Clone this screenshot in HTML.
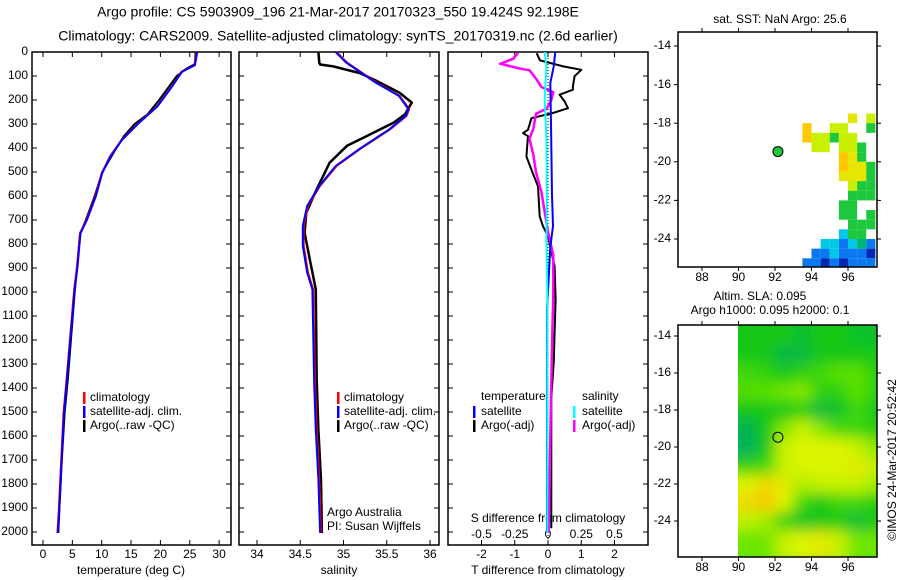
<!DOCTYPE html>
<html><head><meta charset="utf-8"><style>
html,body{margin:0;padding:0;background:#fff;}
svg{display:block;font-family:"Liberation Sans",sans-serif;}
text{font-size:12px;fill:#000;}
text.ttl{font-size:14px;}
</style></head><body>
<svg id="chart" width="900" height="580" viewBox="0 0 900 580"></svg>
<script>
// ---------- data ----------
const tempDepth   = [0,55,82,144,227,297,366,436,505,603,700,755,894,992,1367,1504,1700,1908,2004];
const tempClim    = [26.2,25.8,23.6,21.9,19.4,16.2,13.4,11.4,10,8.9,7.4,6.3,5.8,5.3,4.0,3.5,3.1,2.7,2.45];
const tempArgoDepth = [0,50,70,100,150,200,260,300,350,400,450,500,600,700,760,900,1000,1370,1500,1700,1900,2004];
const tempArgo      = [26.0,25.9,24.4,22.8,21.3,19.8,17.8,15.6,13.8,12.5,11.3,10.1,8.8,7.3,6.3,5.8,5.4,4.2,3.7,3.2,2.8,2.6];
const salClimDepth = [0,44,127,183,238,266,322,405,475,558,641,724,808,919,989,1367,1575,1783,2004];
const salClim      = [34.92,35.04,35.38,35.65,35.76,35.73,35.54,35.19,34.92,34.73,34.59,34.54,34.54,34.59,34.65,34.67,34.69,34.72,34.74];
const salArgoDepth = [0,44,52,60,88,120,170,211,260,294,350,391,461,572,669,753,864,989,1367,1575,1783,2004];
const salArgo      = [34.71,34.72,34.73,34.88,35.19,35.38,35.65,35.79,35.71,35.58,35.27,35.04,34.84,34.69,34.57,34.55,34.61,34.68,34.69,34.71,34.74,34.75];
const tdArgoDepth = [5,35,60,74,101,143,157,178,206,234,254,276,324,338,351,435,490,560,685,726,768,893,1032,1296,1442,1984];
const tdArgo      = [-0.34,-0.24,0.46,1.0,0.8,0.75,0.75,0.35,0.5,0.6,0.15,-0.5,-0.6,-0.75,-0.6,-0.65,-0.5,-0.3,-0.25,-0.15,0,0.2,0.23,0.17,0.1,0.1];
const tdSatDepth = [0,60,130,296,597,726,812,1076,2004];
const tdSat      = [0.22,0.17,0.07,0.09,0.12,0.15,0.07,-0.03,-0.03];
const sdArgoDepth = [3,28,49,69,76,111,146,167,201,236,257,319,361,430,500,583,667,750,847,1014,1222,1515,2004];
const sdArgo      = [-0.225,-0.26,-0.36,-0.21,-0.14,-0.09,-0.05,0.04,0.025,-0.01,-0.09,-0.11,-0.14,-0.11,-0.09,-0.05,-0.025,0,0.04,0.04,0.03,0.02,0.005];
const sdSatDepth = [0,60,195,361,600,780,1000,2004];
const sdSat      = [-0.025,-0.012,-0.025,-0.012,-0.008,-0.012,-0.005,-0.005];
const depthTicks = [0,100,200,300,400,500,600,700,800,900,1000,1100,1200,1300,1400,1500,1600,1700,1800,1900,2000];
const tempTicks = [0,5,10,15,20,25,30];
const salTicks = [34,34.5,35,35.5,36];
const tdTicks = [-2,-1,0,1,2];
const sdTicks = [-0.5,-0.25,0,0.25,0.5];
const sdTickLabels = ["-0.5","-0.25","0","0.25","0.5"];
const lonTicks = [88,90,92,94,96];
const latTicks = [-14,-16,-18,-20,-22,-24];
const argoLon = 92.16, argoLat = -19.47;
const sstRows = [
".....Y.L",
"O..LL..G",
"OLLGLL..",
".LL.LLG.",
"....OYG.",
"....OYYG",
"....YYYG",
".....LGG",
".....GGG",
"....GG..",
"....GG.G",
".....GGG",
"....CGG.",
"..CCBCDB",
".BBCBBBN",
"BBNBNBBB",
"BBNBNBBB"];
const slaGrid = [
[1,1,1,0.7,1,1,0.8,0.7],
[1,1,0.4,0.5,1,1,1,1],
[1.5,1.3,1,1.3,1.5,1.8,1.8,1.3],
[1.7,1.8,2,2.2,1.3,1.3,1.8,1.3],
[1,1,1,1.2,0.5,0.8,1.5,1],
[0.3,1,2.2,2.8,2.2,1.5,1.5,1.2],
[0.2,1,2.8,3,3,3,2.8,2.2],
[1.3,1.5,2.8,3,3,3,3.2,2.8],
[3,3.5,3.2,2.6,2.8,2.8,2.8,2.5],
[3.5,3.8,3,1.5,1,1.5,1.5,1.2],
[2.7,2.5,1.3,0.8,1,1,0.6,1],
[2,2,2.8,3,3.2,2.8,2,2]];

// ---------- helpers ----------
const NS="http://www.w3.org/2000/svg";
const svg=document.getElementById('chart');
function mk(tag,attrs,parent){const e=document.createElementNS(NS,tag);for(const k in attrs)e.setAttribute(k,attrs[k]);(parent||svg).appendChild(e);return e;}
function txt(x,y,s,anchor,parent){const t=mk('text',{x:x,y:y,'text-anchor':anchor||'start','dominant-baseline':'middle'},parent);t.textContent=s;return t;}
const Y=d=>52+d*0.24;
function panelFrame(x0,x1,name){
  const r=mk('rect',{x:x0,y:52,width:x1-x0,height:493,fill:'none',stroke:'#000','stroke-width':1.5});
  
  
  depthTicks.forEach(d=>{mk('line',{x1:x0,x2:x0+5,y1:Y(d),y2:Y(d),stroke:'#000'});mk('line',{x1:x1-5,x2:x1,y1:Y(d),y2:Y(d),stroke:'#000'});});
}
function xTicks(vals,sx,labels,ly){
  vals.forEach((v,i)=>{const x=sx(v);mk('line',{x1:x,x2:x,y1:545,y2:540,stroke:'#000'});mk('line',{x1:x,x2:x,y1:52,y2:57,stroke:'#000'});
    const t=txt(x,ly,labels?labels[i]:String(v),'middle');
    
    });
}
function line(xs,ds,sx,color,w,name){
  const p=xs.map((v,i)=>sx(v).toFixed(1)+','+Y(ds[i]).toFixed(1)).join(' ');
  const l=mk('polyline',{points:p,fill:'none',stroke:color,'stroke-width':w,'stroke-linejoin':'round'});
  
  
}
function legendBar(x,y,c){mk('rect',{x:x,y:y-6,width:2.5,height:12,fill:c});}

// ---------- titles ----------
const t1=txt(338,13,'Argo profile: CS 5903909_196 21-Mar-2017 20170323_550 19.424S 92.198E','middle');
t1.setAttribute('class','ttl');


const t2=txt(338,37,'Climatology: CARS2009. Satellite-adjusted climatology: synTS_20170319.nc (2.6d earlier)','middle');
t2.setAttribute('class','ttl');



// ---------- panel 1 temperature ----------
const sxT=v=>43+v*5.87;
panelFrame(32,231,'temperature-panel');
depthTicks.forEach(d=>{const t=txt(28,Y(d),String(d),'end');});
xTicks(tempTicks,sxT,null,555);
txt(131,571,'temperature (deg C)','middle');
line(tempArgo,tempArgoDepth,sxT,'#000',2,'temp-argo-line');
line(tempClim,tempDepth,sxT,'#f00',2,'temp-climatology-line');
line(tempClim.map(v=>v+0.08),tempDepth,sxT,'#00f',2,'temp-satellite-line');
legendBar(83,398,'#f00');txt(90,398,'climatology');
legendBar(83,412,'#00f');txt(90,412,'satellite-adj. clim.');
legendBar(83,426,'#000');txt(90,426,'Argo(..raw -QC)');

// ---------- panel 2 salinity ----------
const sxS=v=>257+(v-34)*86.5;
panelFrame(239,439,'salinity-panel');
xTicks(salTicks,sxS,null,555);
txt(339,571,'salinity','middle');
line(salArgo,salArgoDepth,sxS,'#000',2.5,'sal-argo-line');
line(salClim,salClimDepth,sxS,'#f00',2,'sal-climatology-line');
line(salClim.map(v=>v-0.01),salClimDepth,sxS,'#00f',2,'sal-satellite-line');
legendBar(337,398,'#f00');txt(344,398,'climatology');
legendBar(337,412,'#00f');txt(344,412,'satellite-adj. clim.');
legendBar(337,426,'#000');txt(344,426,'Argo(..raw -QC)');
txt(327,513,'Argo Australia');txt(327,527,'PI: Susan Wijffels');

// ---------- panel 3 differences ----------
const sxD=v=>548+v*33.25;
const sxSD=v=>548+v*4*33.25;
panelFrame(448,648,'difference-panel');
xTicks(tdTicks,sxD,null,555);
sdTicks.forEach((v,i)=>{const t=txt(sxSD(v),535,sdTickLabels[i],'middle');});
txt(548,519,'S difference from climatology','middle');
txt(548,571,'T difference from climatology','middle');
mk('line',{x1:548,x2:548,y1:52,y2:545,stroke:'#000','stroke-dasharray':'1,2'});
line(tdArgo,tdArgoDepth,sxD,'#000',2,'tdiff-argo-line');
line(sdArgo,sdArgoDepth,sxSD,'#f0f',2.5,'sdiff-argo-line');
line(tdSat,tdSatDepth,sxD,'#00f',2,'tdiff-satellite-line');
line(sdSat,sdSatDepth,sxSD,'#0ff',2,'sdiff-satellite-line');
txt(481,397,'temperature');txt(582,397,'salinity');
legendBar(473,412,'#00f');txt(481,412,'satellite');
legendBar(473,426,'#000');txt(481,426,'Argo(-adj)');
legendBar(573,412,'#0ff');txt(582,412,'satellite');
legendBar(573,426,'#f0f');txt(582,426,'Argo(-adj)');

// ---------- maps ----------
const lx=lon=>702+(lon-88)*18.25;
const ly1=lat=>46+(-14-lat)*19.3;
const ly2=lat=>336+(-14-lat)*18.5;
const sstColors={Y:'#e6e600',O:'#ffc800',L:'#c8f000',G:'#1ec83c',D:'#00b478',C:'#00c8e6',B:'#0a78f0',N:'#0028b4'};
const g1=mk('g',{});


sstRows.forEach((row,r)=>{[...row].forEach((c,ci)=>{if(c==='.')return;
  const lon=93.5+ci*0.5, lat=-17.5-r*0.5;
  const x=lx(lon), y=ly1(lat);
  mk('rect',{x:x,y:y,width:Math.min(lx(lon+0.5),877)-x,height:Math.min(ly1(lat-0.5),267)-y,fill:sstColors[c]},g1);});});
mk('rect',{x:678,y:32,width:199,height:235,fill:'none',stroke:'#000','stroke-width':1.5});
txt(780,20,'sat. SST: NaN Argo: 25.6','middle');
mk('circle',{cx:lx(argoLon),cy:ly1(argoLat),r:5,fill:'#1ec83c',stroke:'#000','stroke-width':1});

const cmap=v=>{const s=[[0,[0,170,110]],[1,[20,200,20]],[2,[110,230,0]],[3,[220,245,0]],[4,[255,190,0]]];
  for(let i=0;i<s.length-1;i++){if(v<=s[i+1][0]){const t=(v-s[i][0]);const a=s[i][1],b=s[i+1][1];return `rgb(${a.map((q,k)=>Math.round(q+(b[k]-q)*t)).join(',')})`;}}return 'rgb(255,190,0)';};
const defs=mk('defs',{});
const cp=mk('clipPath',{id:'slaclip'},defs);mk('rect',{x:738,y:325,width:139,height:232},cp);
const flt=mk('filter',{id:'blur',x:'-10%',y:'-10%',width:'120%',height:'120%'},defs);mk('feGaussianBlur',{stdDeviation:7},flt);
const g2=mk('g',{'clip-path':'url(#slaclip)'});


mk('rect',{x:738,y:325,width:139,height:232,fill:'rgb(20,200,20)'},g2);
const g3=mk('g',{filter:'url(#blur)'},g2);
slaGrid.forEach((row,r)=>row.forEach((v,c)=>{
  const lon=90+c, lat=-13.5-r;
  const x0=c===0?lx(lon)-15:lx(lon), x1=c===row.length-1?lx(lon+1)+15:lx(lon+1);
  const y0=r===0?ly2(lat)-15:ly2(lat), y1=r===slaGrid.length-1?ly2(lat-1)+15:ly2(lat-1);
  mk('rect',{x:x0,y:y0,width:x1-x0+0.5,height:y1-y0+0.5,fill:cmap(v)},g3);}));
mk('rect',{x:678,y:325,width:199,height:232,fill:'none',stroke:'#000','stroke-width':1.5});
txt(760,297,'Altim. SLA: 0.095','middle');
txt(770,311,'Argo h1000: 0.095 h2000: 0.1','middle');
mk('circle',{cx:lx(argoLon),cy:ly2(argoLat),r:5,fill:'none',stroke:'#000','stroke-width':1});

[[32,267,ly1,278],[325,557,ly2,568]].forEach(([top,bot,lyf,lab])=>{
  lonTicks.forEach(v=>{const x=lx(v);mk('line',{x1:x,x2:x,y1:bot,y2:bot+4,stroke:'#000'});mk('line',{x1:x,x2:x,y1:top,y2:top-4,stroke:'#000'});
    const t=txt(x,lab,String(v),'middle');});
  latTicks.forEach(v=>{const y=lyf(v);mk('line',{x1:674,x2:678,y1:y,y2:y,stroke:'#000'});mk('line',{x1:877,x2:881,y1:y,y2:y,stroke:'#000'});
    const t=txt(671,y,String(v),'end');});
});
const cr=txt(0,0,'©IMOS 24-Mar-2017 20:52:42','middle');
cr.setAttribute('transform','translate(893,460) rotate(-90)');


</script>
</body></html>
